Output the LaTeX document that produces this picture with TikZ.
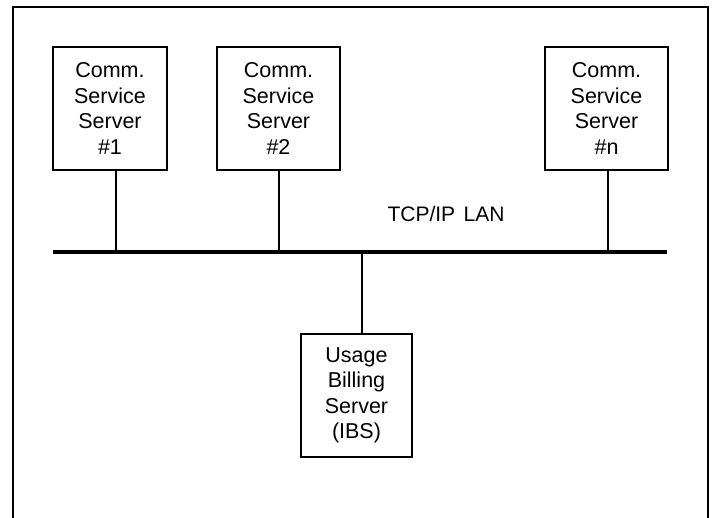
\documentclass[tikz,border=0pt]{standalone}
\usepackage{fontspec}
\setmainfont{Liberation Sans}
\begin{document}
\begin{tikzpicture}[x=1pt,y=-1pt,
  server/.style={draw, line width=2.2pt, minimum width=#1, align=center,
    inner sep=0pt, font=\fontsize{21.5}{25.5}\selectfont},
  server/.default=114pt,
  wire/.style={line width=2.8pt},
  bus/.style={line width=3.8pt},
  frame/.style={line width=2.4pt}]
\useasboundingbox (0,0) rectangle (715,518);

% open frame round the network
\draw[frame] (13,518) -- (13,7) -- (708,7) -- (708,518);

% communication service servers
\node[server, minimum height=123pt] (s1) at (110,108.5) {Comm.\\Service\\Server\\\#1};
\node[server, minimum height=123pt, minimum width=123pt] (s2) at (278.5,108.5) {Comm.\\Service\\Server\\\#2};
\node[server, minimum height=123pt, minimum width=123pt] (sn) at (606.5,108.5) {Comm.\\Service\\Server\\\#n};

% usage billing server
\node[server, minimum height=123pt, minimum width=111pt] (ibs) at (356.5,395.5) {Usage\\Billing\\Server\\(IBS)};

% LAN bus and its taps
\coordinate (busL) at (53,252);
\coordinate (busR) at (667,252);
\coordinate (t1) at (116,252);
\coordinate (t2) at (279,252);
\coordinate (tn) at (608,252);
\coordinate (tb) at (362,252);
\draw[bus] (busL) -- (busR);

\draw[wire] (t1 |- s1.south) -- (t1);
\draw[wire] (t2 |- s2.south) -- (t2);
\draw[wire] (tn |- sn.south) -- (tn);
\draw[wire] (tb) -- (tb |- ibs.north);

\node[anchor=base, inner sep=0pt, font=\fontsize{21}{24}\selectfont] (lan) at (446,222) {TCP/IP\hspace{0.4em}LAN};
\end{tikzpicture}
\end{document}
